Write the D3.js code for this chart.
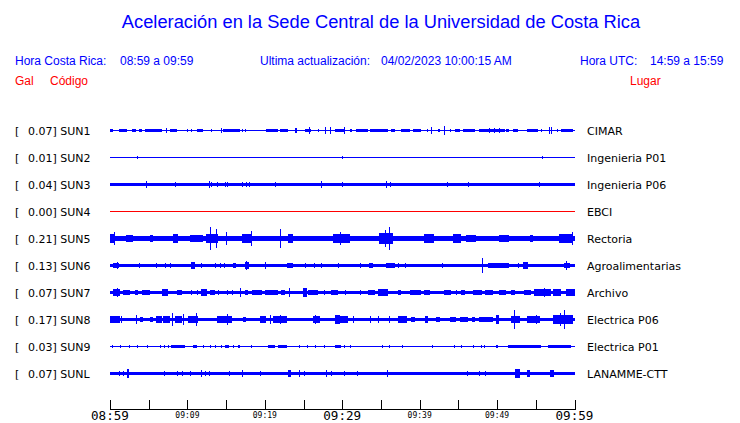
<!DOCTYPE html>
<html><head><meta charset="utf-8">
<script src="https://cdn.jsdelivr.net/npm/d3@7"></script>
<style>
html,body{margin:0;padding:0;background:#fff;}
svg{display:block;}
</style></head>
<body>
<script>
// ---------------- DATA ----------------
const title = "Aceleración en la Sede Central de la Universidad de Costa Rica";
const headerLabels = ["Hora Costa Rica:", "08:59 a 09:59", "Ultima actualización:", "04/02/2023 10:00:15 AM", "Hora UTC:", "14:59 a 15:59"];
const columnLabels = ["Gal", "Código", "Lugar"];

const codes  = ["SUN1","SUN2","SUN3","SUN4","SUN5","SUN6","SUN7","SUN8","SUN9","SUNL"];
const galMax = [0.07, 0.01, 0.04, 0.00, 0.21, 0.13, 0.07, 0.17, 0.03, 0.07];
const places = ["CIMAR","Ingenieria P01","Ingenieria P06","EBCI","Rectoria","Agroalimentarias","Archivo","Electrica P06","Electrica P01","LANAMME-CTT"];
// background (noise) half-amplitude of each trace, Gal
const baseAmp = [0.009, 0.009, 0.033, 0.009, 0.052, 0.027, 0.027, 0.036, 0.009, 0.03];
const deadStation = ["SUN4"];

// time axis (minutes after 08:59)
const tickMinutes = [0,5,10,15,20,25,30,35,40,45,50,55,60];
const tickLabels  = ["08:59","09:09","09:19","09:29","09:39","09:49","09:59"];
const tickLabelMinutes = [0,10,20,30,40,50,60];
const majorLabels = ["08:59","09:29","09:59"];

// bursts / spikes: [startMinute, endMinute, halfAmplitudeGal]
const evSUN1 = [[0,0.4,0.024],[1.1,2.15,0.024],[2.8,3.4,0.024],[3.7,4.1,0.024],[4.5,6.7,0.024],[7.2,7.3,0.045],[7.7,8.6,0.024],[9.9,10.0,0.02],[10.4,10.5,0.02],[11.2,12.0,0.024],[13.1,13.2,0.02],[14.4,14.5,0.04],[14.6,16.8,0.024],[17.0,17.1,0.02],[17.4,17.5,0.02],[17.9,18.9,0.018],[20.2,21.7,0.024],[21.9,23.0,0.024],[23.9,24.2,0.05],[25.2,26.0,0.03],[25.7,25.8,0.062],[26.9,27.0,0.02],[27.8,27.9,0.055],[28.4,28.5,0.055],[29.0,30.3,0.026],[30.2,30.3,0.055],[31.0,31.2,0.02],[31.8,33.3,0.024],[33.6,35.9,0.024],[36.3,36.8,0.024],[37.6,38.7,0.024],[39.1,40.2,0.024],[40.9,41.1,0.02],[41.4,41.5,0.065],[42.4,42.6,0.02],[43.1,43.2,0.09],[43.9,44.1,0.02],[44.5,45.2,0.024],[45.6,47.1,0.024],[47.7,48.4,0.024],[48.4,51.0,0.03],[49.0,49.1,0.05],[49.6,49.7,0.05],[50.2,50.3,0.05],[51.2,51.6,0.02],[52.0,52.7,0.024],[53.8,55.3,0.024],[55.7,55.8,0.02],[56.7,56.8,0.065],[57.0,57.1,0.06],[57.8,57.9,0.02],[58.3,59.8,0.024]];
const evSUN2 = [[3.5,3.5,0.02],[17.6,17.6,0.015],[27.2,27.2,0.015],[30.0,30.0,0.02],[52.2,52.2,0.015],[55.8,55.9,0.03],[58.1,58.1,0.015]];
const evSUN3 = [[4.7,4.8,0.055],[8.4,8.4,0.045],[12.8,12.9,0.055],[13.1,13.2,0.05],[13.85,13.85,0.04],[14.8,14.9,0.05],[15.1,15.2,0.05],[17.1,17.1,0.04],[17.6,17.6,0.045],[17.9,17.9,0.045],[21.3,21.3,0.045],[27.2,27.2,0.055],[30.0,30.0,0.05],[35.6,35.7,0.06],[36.2,36.2,0.045],[43.5,43.5,0.045],[46.2,46.2,0.045],[55.4,55.4,0.045]];
const evSUN4 = [];
const evSUN5 = [[0,0.6,0.085],[0.5,0.5,0.115],[2.1,3.0,0.068],[5.2,5.6,0.065],[8.2,8.8,0.075],[10.3,12.0,0.066],[12.4,14.0,0.082],[12.9,12.9,0.21],[13.7,13.7,0.17],[15.0,15.1,0.11],[17.0,18.3,0.082],[18.2,18.2,0.145],[21.9,22.0,0.17],[23.0,23.7,0.08],[28.8,31.0,0.08],[29.7,29.8,0.11],[34.8,36.6,0.095],[35.5,35.5,0.15],[36.1,36.2,0.21],[40.6,41.9,0.08],[44.3,45.4,0.08],[46.0,47.3,0.068],[50.3,51.6,0.068],[54.2,54.6,0.068],[58.0,59.8,0.08],[59.7,59.8,0.125]];
const evSUN6 = [[0.4,1.1,0.045],[0.85,0.85,0.055],[1.9,1.9,0.035],[3.7,3.7,0.04],[6.0,6.0,0.04],[7.1,7.1,0.04],[7.8,7.8,0.045],[10.45,11.0,0.065],[11.8,11.8,0.04],[13.5,13.5,0.04],[14.2,14.2,0.04],[14.75,14.75,0.045],[15.9,16.3,0.045],[17.4,17.9,0.07],[17.6,17.6,0.085],[20.0,20.1,0.055],[22.8,23.7,0.045],[25.2,25.2,0.04],[26.4,26.4,0.04],[27.2,27.2,0.04],[29.5,29.6,0.045],[32.3,32.3,0.045],[33.5,34.0,0.045],[35.7,36.8,0.05],[37.2,37.2,0.045],[38.1,38.1,0.045],[39.4,39.4,0.035],[40.9,40.9,0.035],[42.9,43.0,0.04],[44.1,44.7,0.035],[46.8,46.8,0.035],[48.0,48.0,0.135],[48.8,51.6,0.04],[49.5,49.5,0.05],[50.3,50.3,0.05],[52.7,52.7,0.04],[53.3,54.0,0.06],[58.7,59.4,0.05],[58.9,58.9,0.09]];
const evSUN7 = [[0.43,1.29,0.065],[0.86,0.86,0.075],[1.72,2.58,0.045],[3.23,3.66,0.045],[4.09,5.16,0.045],[6.67,7.53,0.055],[8.6,9.25,0.045],[10.5,10.5,0.04],[11.2,11.2,0.04],[11.8,12.5,0.055],[12.9,13.5,0.045],[14.0,14.0,0.04],[15.05,15.05,0.04],[15.7,15.7,0.045],[16.8,16.8,0.075],[17.4,17.85,0.045],[18.3,19.6,0.045],[20.0,21.7,0.045],[22.15,22.6,0.045],[23.1,23.1,0.075],[24.95,25.4,0.075],[25.6,26.9,0.045],[27.7,27.7,0.04],[28.6,29.5,0.045],[30.3,30.3,0.04],[32.3,32.3,0.04],[33.3,34.2,0.045],[34.6,35.9,0.055],[37.2,37.6,0.045],[38.7,40.2,0.045],[40.6,41.3,0.045],[43.2,44.1,0.045],[44.7,44.7,0.04],[45.4,45.8,0.045],[46.9,48.0,0.045],[48.4,49.5,0.045],[50.3,51.2,0.045],[51.8,52.3,0.045],[53.5,54.4,0.045],[54.8,57.0,0.055],[56.1,56.1,0.075],[57.2,58.3,0.055],[58.9,60.0,0.06]];
const evSUN8 = [[0,1.3,0.055],[1.4,1.4,0.06],[3.4,3.4,0.075],[3.9,4.3,0.045],[5.2,5.6,0.045],[6.0,6.7,0.055],[6.9,7.7,0.065],[8.0,8.0,0.11],[8.4,9.3,0.065],[9.4,9.4,0.1],[10.1,11.4,0.07],[11.1,11.1,0.11],[13.8,15.7,0.065],[15.05,15.05,0.1],[17.2,17.6,0.045],[19.35,20.2,0.06],[20.65,20.65,0.09],[21.1,22.8,0.06],[21.9,21.9,0.09],[26.2,27.1,0.06],[26.45,26.45,0.08],[29.0,29.7,0.09],[29.7,30.8,0.06],[31.4,31.4,0.055],[33.55,33.55,0.055],[34.6,34.6,0.055],[36.1,36.1,0.055],[37.2,38.3,0.055],[38.9,39.4,0.045],[40.65,41.1,0.055],[42.15,42.6,0.045],[43.9,44.7,0.045],[45.2,46.2,0.045],[46.7,47.1,0.045],[47.7,49.5,0.045],[49.9,50.3,0.08],[51.8,52.9,0.07],[52.2,52.2,0.17],[53.8,55.5,0.06],[55.0,55.0,0.08],[57.2,59.8,0.085],[58.1,58.1,0.125],[58.7,58.7,0.165]];
const evSUN9 = [[0.2,0.2,0.02],[1.3,1.3,0.02],[2.4,2.6,0.028],[3.5,3.5,0.035],[4.8,4.8,0.02],[6.45,6.45,0.02],[7.0,7.0,0.02],[7.5,7.5,0.02],[7.9,9.0,0.02],[9.0,9.7,0.028],[10.75,11.3,0.028],[12.0,12.0,0.02],[12.9,12.9,0.02],[13.6,13.6,0.02],[14.3,14.3,0.02],[14.8,15.4,0.028],[15.9,15.9,0.02],[16.5,16.8,0.025],[18.15,18.15,0.02],[20.4,21.3,0.02],[21.7,22.8,0.02],[24.4,24.4,0.02],[25.5,25.5,0.02],[26.5,26.5,0.02],[27.7,27.7,0.02],[29.0,29.8,0.028],[30.2,30.2,0.02],[31.05,31.05,0.02],[35.1,35.1,0.02],[36.1,36.1,0.02],[37.7,37.7,0.02],[41.6,41.6,0.02],[44.4,44.4,0.02],[45.3,45.3,0.02],[46.9,46.9,0.02],[47.9,47.9,0.02],[48.3,48.3,0.02],[49.8,50.1,0.028],[51.4,55.7,0.022],[56.6,59.6,0.022]];
const evSUNL = [[1.1,1.1,0.045],[1.7,1.7,0.04],[2.15,2.45,0.075],[7.0,7.0,0.045],[8.6,8.6,0.045],[9.3,9.3,0.045],[10.3,10.3,0.045],[11.7,11.9,0.065],[12.3,12.3,0.045],[12.8,12.8,0.045],[15.35,15.35,0.045],[17.1,17.2,0.055],[19.35,19.35,0.045],[23.0,23.35,0.055],[24.4,24.55,0.055],[25.1,25.1,0.045],[27.9,28.0,0.065],[28.6,28.6,0.045],[30.2,30.2,0.045],[31.9,31.9,0.045],[35.8,35.8,0.065],[46.1,46.1,0.04],[47.65,47.65,0.04],[48.4,48.4,0.04],[52.3,52.9,0.075],[53.8,54.3,0.055],[56.8,57.4,0.065]];
const events = [evSUN1, evSUN2, evSUN3, evSUN4, evSUN5, evSUN6, evSUN7, evSUN8, evSUN9, evSUNL];

// ---------------- CHART ----------------
const W = 740, H = 423;
const svg = d3.select("body").append("svg").attr("width", W).attr("height", H);
const BLUE = "#0000ff", RED = "#ff0000";
const sans = "'Liberation Sans', Arial, sans-serif";
const dejavu = "'DejaVu Sans', sans-serif";
const mono = "'DejaVu Sans Mono', monospace";

// header
svg.append("text").attr("x", 381).attr("y", 28).attr("text-anchor", "middle")
  .attr("font-family", sans).attr("font-size", 18.3).attr("fill", BLUE).text(title);
const headerX = [15, 120, 260, 381, 580, 650];
headerLabels.forEach((t, i) => {
  svg.append("text").attr("x", headerX[i]).attr("y", 65).attr("font-family", sans)
    .attr("font-size", 12).attr("fill", BLUE).text(t);
});
const colX = [15, 50, 630];
columnLabels.forEach((t, i) => {
  svg.append("text").attr("x", colX[i]).attr("y", 85).attr("font-family", sans)
    .attr("font-size", 12).attr("fill", RED).text(t);
});

// scales
const x = d3.scaleLinear().domain([0, 60]).range([110, 574.5]);
const row = d3.scalePoint().domain(codes).range([130.5, 373.5]);
const amp = d3.scaleLinear().domain([0, 0.21]).range([0, 11.5]);

const g = svg.append("g").attr("shape-rendering", "crispEdges");
codes.forEach((c, i) => {
  const cy = row(c);
  const col = deadStation.includes(c) ? RED : BLUE;
  const tr = g.append("g");
  const hb = Math.max(0.5, amp(baseAmp[i]));
  tr.append("rect").attr("x", x(0)).attr("width", x(60) - x(0))
    .attr("y", cy - hb).attr("height", 2 * hb).attr("fill", col);
  tr.selectAll("rect.ev").data(events[i]).join("rect").attr("class", "ev")
    .attr("x", d => x(d[0]))
    .attr("width", d => Math.max(1, x(d[1]) - x(d[0])))
    .attr("y", d => cy - amp(d[2]))
    .attr("height", d => 2 * amp(d[2]))
    .attr("fill", col);

  // left label
  svg.append("text").attr("x", 15).attr("y", cy + 4).attr("font-family", dejavu)
    .attr("font-size", 11).attr("fill", "#000").text("[");
  svg.append("text").attr("x", 28).attr("y", cy + 4).attr("font-family", dejavu)
    .attr("font-size", 11).attr("fill", "#000").text(galMax[i].toFixed(2) + "] " + c);
  svg.append("text").attr("x", 587).attr("y", cy + 4).attr("font-family", dejavu)
    .attr("font-size", 11).attr("fill", "#000").text(places[i]);
});

// time axis
const axisY = 409;
const ax = svg.append("g").attr("shape-rendering", "crispEdges");
ax.append("line").attr("x1", x(0)).attr("x2", x(60)).attr("y1", axisY + 0.5).attr("y2", axisY + 0.5)
  .attr("stroke", "#000");
ax.selectAll("line.tick").data(tickMinutes).join("line").attr("class", "tick")
  .attr("x1", d => Math.round(x(d)) + 0.5).attr("x2", d => Math.round(x(d)) + 0.5)
  .attr("y1", axisY - 9).attr("y2", axisY + 1).attr("stroke", "#000");
svg.selectAll("text.tl").data(tickLabels).join("text").attr("class", "tl")
  .attr("x", (d, i) => x(tickLabelMinutes[i]))
  .attr("y", d => majorLabels.includes(d) ? 420 : 418)
  .attr("text-anchor", "middle").attr("font-family", mono)
  .attr("font-size", d => majorLabels.includes(d) ? 12.6 : 8)
  .attr("fill", "#000").text(d => d);
</script>
</body></html>
